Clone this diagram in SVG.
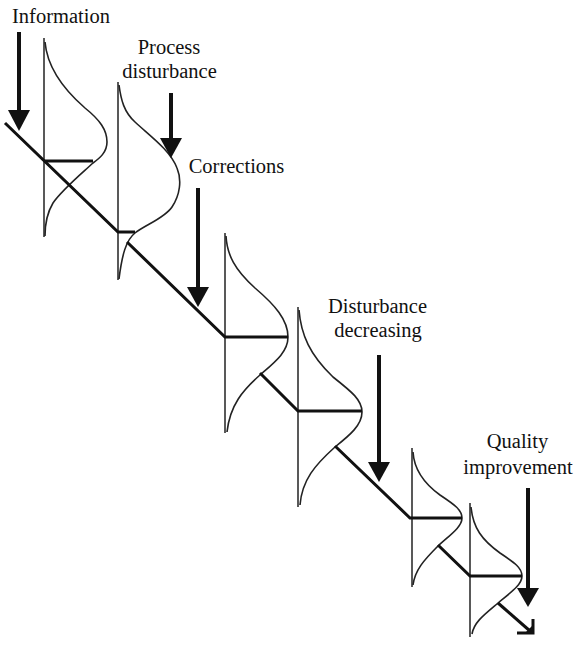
<svg xmlns="http://www.w3.org/2000/svg" width="577" height="648" viewBox="0 0 577 648">
<style>
  .lbl { font-family: "Liberation Serif", "Times New Roman", serif; font-size: 20.5px; fill: #111; text-anchor: middle; }
  .axis { stroke: #222; stroke-width: 1.5; fill: none; }
  .bell { stroke: #222; stroke-width: 1.6; fill: none; stroke-linejoin: round; }
  .mean { stroke: #111; stroke-width: 3; fill: none; }
  .stair { stroke: #111; stroke-width: 3; fill: none; stroke-linejoin: miter; }
  .shaft { stroke: #111; stroke-width: 4; fill: none; }
  .head { fill: #111; stroke: none; }
</style>
<rect width="577" height="648" fill="#fff"/>

<g id="curve1">
  <line class="axis" x1="44" y1="38" x2="44" y2="237"/>
  <path class="bell" d="M45,42 C47,65 62,88 85,108 C100,120 107,130 107,142 C107,152 100,158 93,163 C80,175 62,190 53,203 C47,213 45,225 45,236"/>
  <line class="mean" x1="44" y1="161" x2="93" y2="161"/>
</g>
<g id="curve2">
  <line class="axis" x1="118" y1="82" x2="118" y2="280"/>
  <path class="bell" d="M119,85 C121,100 124,112 135,122 C150,136 170,150 177,168 C182,180 180,195 172,207 C165,218 145,225 135,233 C126,240 122,255 119,279"/>
</g>
<g id="curve3">
  <line class="axis" x1="225" y1="233" x2="225" y2="433"/>
  <path class="bell" d="M226,236 C227,255 235,270 255,288 C275,305 288,320 288,337 C288,352 275,362 260,375 C243,390 230,405 227,432"/>
</g>
<g id="curve4">
  <line class="axis" x1="298" y1="307" x2="298" y2="507"/>
  <path class="bell" d="M299,310 C301,335 310,355 333,377 C352,392 362,400 362,412 C362,425 350,435 335,447 C315,465 302,480 300,505"/>
</g>
<g id="curve5">
  <line class="axis" x1="412" y1="448" x2="412" y2="587"/>
  <path class="bell" d="M413,452 C414,468 422,482 440,495 C455,505 462,510 462,518 C462,527 450,535 438,546 C424,560 415,570 413,585"/>
</g>
<g id="curve6">
  <line class="axis" x1="470" y1="503" x2="470" y2="637"/>
  <path class="bell" d="M471,507 C473,528 482,540 500,553 C515,563 522,568 522,576 C522,585 510,593 498,603 C485,614 474,622 472,634"/>
</g>

<g id="connectors">
  <path class="stair" d="M5,123 L118,232 L135,232"/>
  <path class="stair" d="M127,242 L225,337 L288,337"/>
  <path class="stair" d="M260,373 L298,411 L362,411"/>
  <path class="stair" d="M335,446 L410,518 L462,518"/>
  <path class="stair" d="M438,545 L470,576 L522,576"/>
  <path class="stair" d="M498,603 L530,631"/>
  <path class="stair" d="M517,633 L533,633 L533,619"/>
  <polygon class="head" points="533,634 524,634 533,625"/>
</g>

<g id="information">
  <text class="lbl" x="61" y="23">Information</text>
  <line class="shaft" x1="19" y1="32" x2="19" y2="112"/>
  <polygon class="head" points="8,110 30,110 19,131"/>
</g>
<g id="process-disturbance">
  <text class="lbl" x="169" y="54">Process</text>
  <text class="lbl" x="169.5" y="78">disturbance</text>
  <line class="shaft" x1="171" y1="93" x2="171" y2="140"/>
  <polygon class="head" points="160,138 182,138 171,158"/>
</g>
<g id="corrections">
  <text class="lbl" x="236.5" y="173">Corrections</text>
  <line class="shaft" x1="198" y1="188" x2="198" y2="289"/>
  <polygon class="head" points="187,287 209,287 198,307"/>
</g>
<g id="disturbance-decreasing">
  <text class="lbl" x="377.5" y="313">Disturbance</text>
  <text class="lbl" x="378" y="337">decreasing</text>
  <line class="shaft" x1="379" y1="355" x2="379" y2="464"/>
  <polygon class="head" points="368,462 390,462 379,482"/>
</g>
<g id="quality-improvement">
  <text class="lbl" x="517.5" y="448">Quality</text>
  <text class="lbl" x="518" y="474">improvement</text>
  <line class="shaft" x1="528" y1="488" x2="528" y2="590"/>
  <polygon class="head" points="517,588 539,588 528,607"/>
</g>
</svg>
